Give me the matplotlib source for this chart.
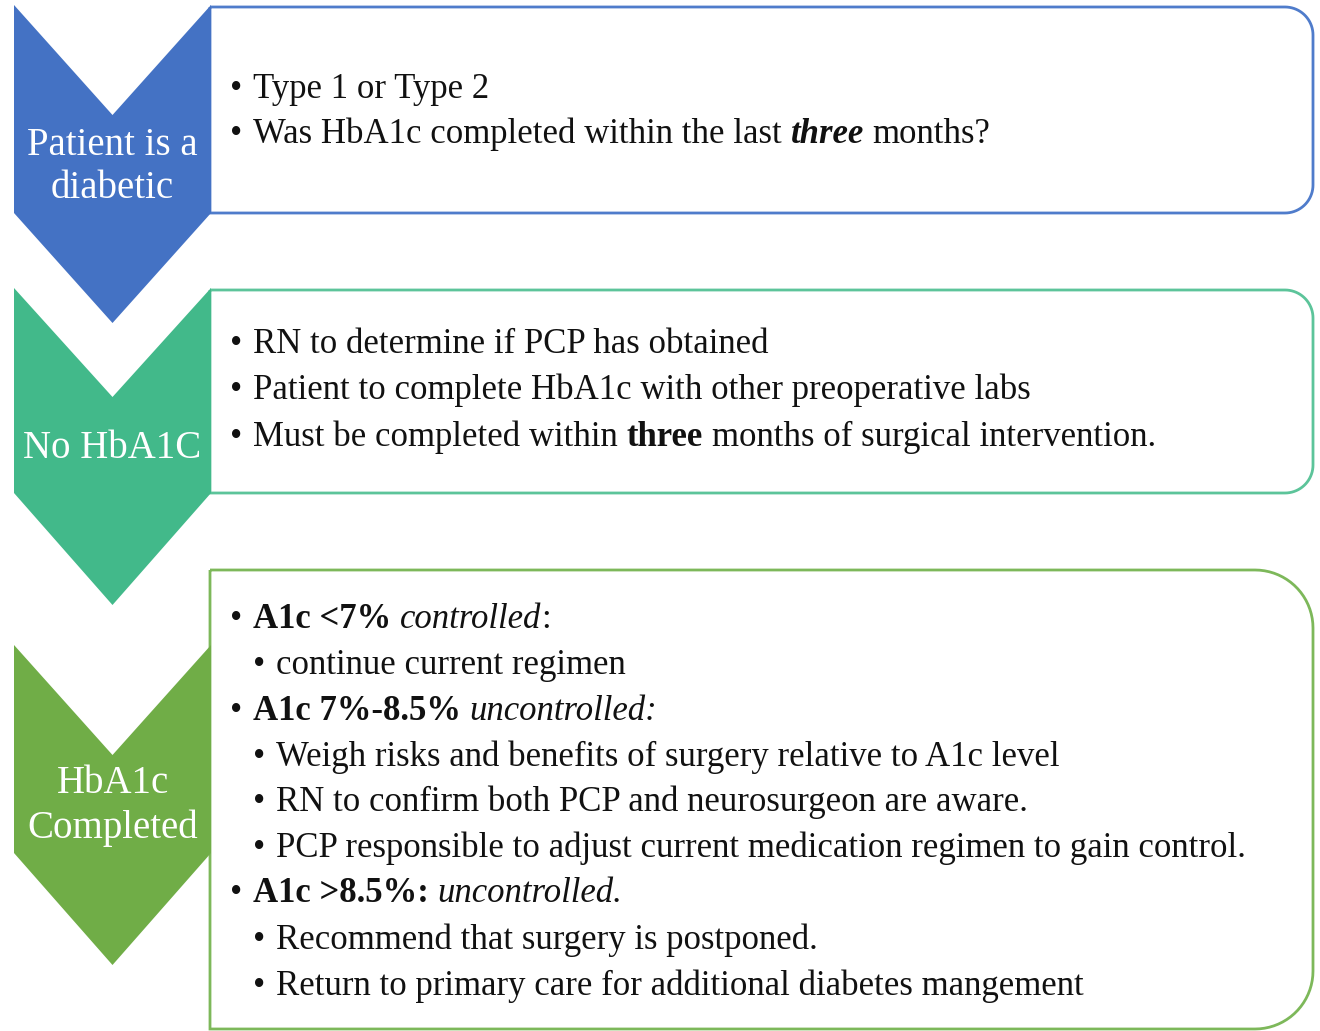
import numpy as np
import matplotlib.pyplot as plt
from matplotlib.patches import Polygon, PathPatch
from matplotlib.path import Path

# --- contenido ---
etiquetas = [["Patient is a", "diabetic"], ["No HbA1C"], ["HbA1c", "Completed"]]

caja1 = [
    (0, [("Type 1 or Type 2", "n")]),
    (0, [("Was HbA1c completed within the last", "n"), (" three", "bi"), (" months?", "n")]),
]
caja2 = [
    (0, [("RN to determine if PCP has obtained", "n")]),
    (0, [("Patient to complete HbA1c with other preoperative labs", "n")]),
    (0, [("Must be completed within", "n"), (" three", "b"), (" months of surgical intervention.", "n")]),
]
caja3 = [
    (0, [("A1c <7%", "b"), (" controlled", "i"), (":", "n")]),
    (1, [("continue current regimen", "n")]),
    (0, [("A1c 7%-8.5%", "b"), (" uncontrolled:", "i")]),
    (1, [("Weigh risks and benefits of surgery relative to A1c level", "n")]),
    (1, [("RN to confirm both PCP and neurosurgeon are aware.", "n")]),
    (1, [("PCP responsible to adjust current medication regimen to gain control.", "n")]),
    (0, [("A1c >8.5%:", "b"), (" uncontrolled.", "i")]),
    (1, [("Recommend that surgery is postponed.", "n")]),
    (1, [("Return to primary care for additional diabetes mangement", "n")]),
]
cajas = [caja1, caja2, caja3]

# --- estilo / geometria (pixeles) ---
colores = ['#4472C4', '#42B98A', '#70AD47']
bordes = ['#4F7CCB', '#5CC49A', '#7DB85A']
FUENTE = 'Liberation Serif'
TAM = 25
TAM_ETIQ = 28

# chevron: (arriba, muesca, lado_abajo, punta)
chevrones = [(5, 115, 213, 323), (288, 397, 493, 605), (645, 755, 853, 965)]
CX0, CX1 = 14, 211
# caja: (arriba, abajo, radio)
rects = [(7, 213, 28), (290, 493, 28), (570, 1029, 58)]
RX0, RX1 = 210, 1313
base_etiquetas = [[155, 198], [458], [793, 838]]
base_cajas = [[98, 143], [353, 399, 446], [628, 674, 720, 766, 811, 857, 902, 949, 995]]
X_BALA = [230, 253]
X_TEXTO = [253, 276]

estilos = {"n": ("normal", "normal"), "b": ("bold", "normal"),
           "i": ("normal", "italic"), "bi": ("bold", "italic")}

fig = plt.figure(figsize=(13.2, 10.31), dpi=100)
ax = fig.add_axes([0, 0, 1, 1])
ax.set_xlim(0, 1320)
ax.set_ylim(1031, 0)
ax.axis('off')


def caja_redondeada(y0, y1, r):
    # lado izquierdo recto, esquinas derechas redondeadas
    pts = [(RX0, y0), (RX1 - r, y0)]
    t = np.linspace(-np.pi / 2, 0, 20)
    pts += [(RX1 - r + r * np.cos(a), y0 + r + r * np.sin(a)) for a in t]
    t = np.linspace(0, np.pi / 2, 20)
    pts += [(RX1 - r + r * np.cos(a), y1 - r + r * np.sin(a)) for a in t]
    pts += [(RX0, y1), (RX0, y0)]
    return Path(pts)


for (y0, y1, r), c in zip(rects, bordes):
    ax.add_patch(PathPatch(caja_redondeada(y0, y1, r), facecolor='white',
                           edgecolor=c, lw=2.0, zorder=1))

xc = (CX0 + CX1) / 2
for (top, notch, lb, tip), c in zip(chevrones, colores):
    pts = [(CX0, top), (xc, notch), (CX1, top), (CX1, lb), (xc, tip), (CX0, lb)]
    ax.add_patch(Polygon(pts, closed=True, facecolor=c, edgecolor='none', zorder=2))

for lineas, bases in zip(etiquetas, base_etiquetas):
    for txt, yb in zip(lineas, bases):
        ax.text(xc, yb, txt, ha='center', va='baseline', color='white',
                fontsize=TAM_ETIQ, family=FUENTE, zorder=3)

rend = fig.canvas.get_renderer()
ancho_esp = {}


def espacio(w, s):
    k = (w, s)
    if k not in ancho_esp:
        a = ax.text(0, 0, "a a", fontsize=TAM, family=FUENTE, fontweight=w, fontstyle=s)
        b = ax.text(0, 0, "aa", fontsize=TAM, family=FUENTE, fontweight=w, fontstyle=s)
        ancho_esp[k] = a.get_window_extent(rend).width - b.get_window_extent(rend).width
        a.remove()
        b.remove()
    return ancho_esp[k]


for caja, bases in zip(cajas, base_cajas):
    for (nivel, partes), yb in zip(caja, bases):
        ax.text(X_BALA[nivel], yb, "\u2022", fontsize=TAM, family=FUENTE,
                va='baseline', color='#111111', zorder=3)
        x = X_TEXTO[nivel]
        for txt, st in partes:
            w, s = estilos[st]
            n = len(txt) - len(txt.lstrip(' '))
            x += n * espacio(w, s)
            t = ax.text(x, yb, txt.strip(' '), fontsize=TAM, family=FUENTE,
                        fontweight=w, fontstyle=s, va='baseline', color='#111111',
                        zorder=3)
            x += t.get_window_extent(rend).width

fig.savefig('out.png', dpi=100)
